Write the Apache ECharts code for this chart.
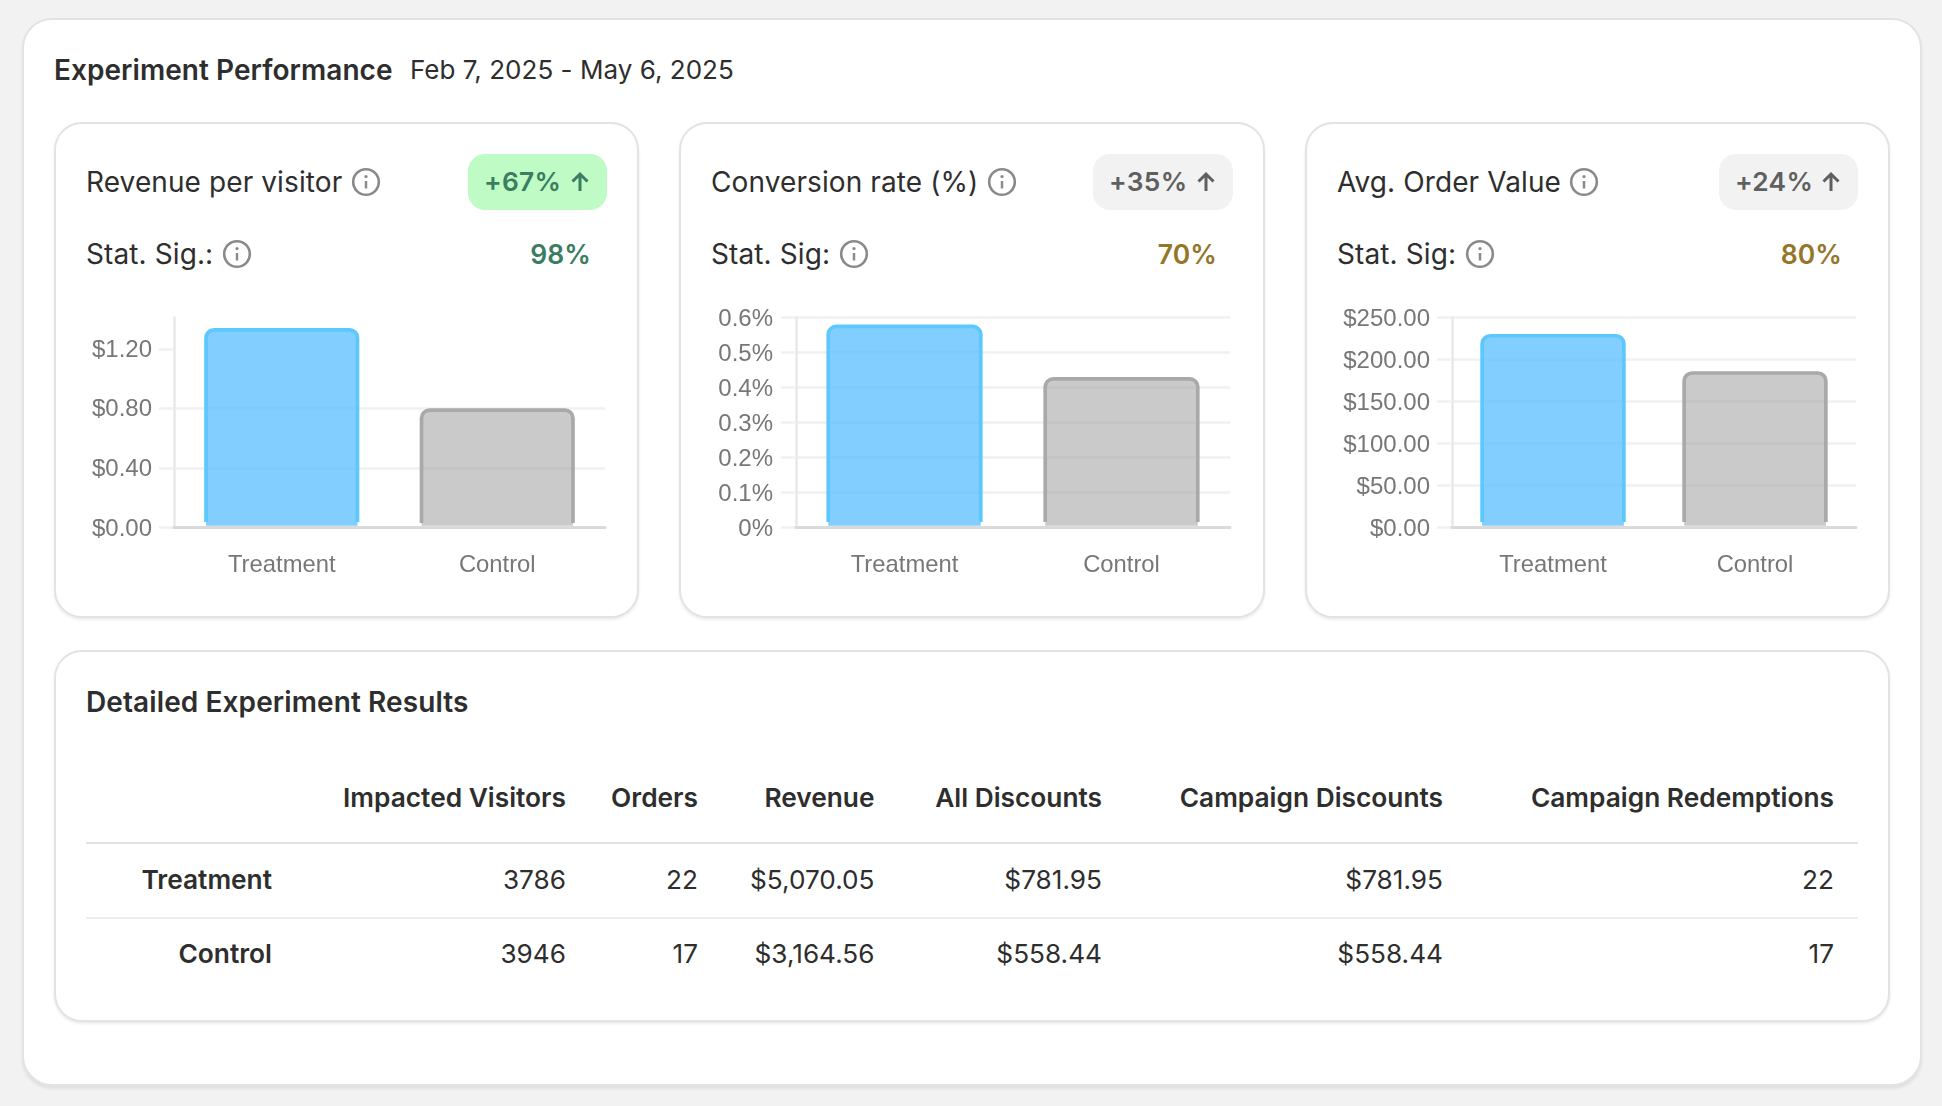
<!DOCTYPE html>
<html><head><meta charset="utf-8">
<script src="https://cdn.jsdelivr.net/npm/echarts@6/dist/echarts.min.js"></script>
<style>
html,body{margin:0;padding:0;background:#f2f2f2;width:1942px;height:1106px;overflow:hidden;font-family:Inter,sans-serif;color:#2e2e2e}
.box{position:absolute;box-sizing:border-box;background:#fff;border:2.5px solid #e3e3e3}
.outer{left:22px;top:18px;width:1900px;height:1068px;border-radius:30px;box-shadow:0 3px 3px rgba(0,0,0,.07)}
.panel{border-radius:28px;box-shadow:0 2px 3px rgba(0,0,0,.08)}
.t{position:absolute;white-space:nowrap;line-height:1;transform:translateY(-50%)}
.r{transform:translate(-100%,-50%)}
.h1{font-size:28px;font-weight:600;letter-spacing:.05px}
.h2{font-size:28px;font-weight:600;letter-spacing:.1px}
.date{font-size:26px;font-weight:400;letter-spacing:.03px}
.title{font-size:28px;font-weight:400;letter-spacing:.1px}
.badge{position:absolute;height:56px;border-radius:17px;top:154px}
.bt{font-size:26.3px;font-weight:600;letter-spacing:.3px}
.sv{font-size:26.5px;font-weight:600;letter-spacing:.1px}
.th{font-size:26.3px;font-weight:600}
.td{font-size:26.2px;font-weight:400}
.rh{font-size:26.3px;font-weight:600}
.line{position:absolute;left:86px;width:1772px}
.chart{position:absolute}
svg.icon{position:absolute}
</style></head><body>
<div class="box outer"></div>
<div id="root"></div>
<script>
// ---- data ----
const categories = ["Treatment", "Control"];
const revenuePerVisitor = [1.34, 0.80];
const conversionRate = [0.58, 0.43];
const avgOrderValue = [230.46, 186.15];
const revenueTicks = [0, 0.4, 0.8, 1.2];
const conversionTicks = [0, 0.1, 0.2, 0.3, 0.4, 0.5, 0.6];
const orderValueTicks = [0, 50, 100, 150, 200, 250];
const panelTitles = ["Revenue per visitor", "Conversion rate (%)", "Avg. Order Value"];
const sigLabels = ["Stat. Sig.:", "Stat. Sig:", "Stat. Sig:"];
const lifts = ["+67%", "+35%", "+24%"];
const sigValues = ["98%", "70%", "80%"];
const tableHeaders = ["Impacted Visitors", "Orders", "Revenue", "All Discounts", "Campaign Discounts", "Campaign Redemptions"];
const treatmentRow = ["3786", "22", "$5,070.05", "$781.95", "$781.95", "22"];
const controlRow = ["3946", "17", "$3,164.56", "$558.44", "$558.44", "17"];

// ---- layout and style ----
const root = document.getElementById('root');
function el(cls, css, txt){const d=document.createElement('div');d.className=cls;d.style.cssText=css;if(txt!==undefined)d.textContent=txt;root.appendChild(d);return d;}
function infoIcon(cx,cy){
  const s=document.createElementNS('http://www.w3.org/2000/svg','svg');
  s.setAttribute('class','icon');s.setAttribute('width',30);s.setAttribute('height',30);s.setAttribute('viewBox','0 0 30 30');
  s.style.left=(cx-15)+'px';s.style.top=(cy-15)+'px';
  s.innerHTML='<circle cx="15" cy="15" r="12.8" fill="none" stroke="#8a8a8a" stroke-width="2.6"/><line x1="15" y1="14" x2="15" y2="21.5" stroke="#8a8a8a" stroke-width="2.5"/><circle cx="15" cy="9.6" r="1.6" fill="#8a8a8a"/>';
  root.appendChild(s);
}
function arrow(cx,cy,color){
  const s=document.createElementNS('http://www.w3.org/2000/svg','svg');
  s.setAttribute('class','icon');s.setAttribute('width',22);s.setAttribute('height',22);s.setAttribute('viewBox','0 0 22 22');
  s.style.left=(cx-11)+'px';s.style.top=(cy-11)+'px';
  s.innerHTML='<path d="M11 20V3M3.5 10.5L11 3l7.5 7.5" fill="none" stroke="'+color+'" stroke-width="3"/>';
  root.appendChild(s);
}
el('t h1','left:54px;top:70px','Experiment Performance');
el('t date','left:410px;top:70px','Feb 7, 2025 - May 6, 2025');

const panels=[
 {l:54,r:639,textX:86,iconX:366,sigIcon:237,badgeL:468,badgeR:607,badge:'#bffbc4',lift:'#3a7d60',sig:'#3a7d60',ax:[174,605],vals:revenuePerVisitor,ticks:revenueTicks,max:1.41,labelMargin:22,fmt:v=>'$'+v.toFixed(2)},
 {l:679,r:1265,textX:711,iconX:1002,sigIcon:854,badgeL:1093,badgeR:1233,badge:'#f2f2f2',lift:'#5f5f5f',sig:'#957528',ax:[796,1230],vals:conversionRate,ticks:conversionTicks,max:0.6,labelMargin:23,fmt:v=>(v===0?'0':v.toFixed(1))+'%'},
 {l:1305,r:1890,textX:1337,iconX:1584,sigIcon:1480,badgeL:1719,badgeR:1858,badge:'#f2f2f2',lift:'#5f5f5f',sig:'#957528',ax:[1452,1856],vals:avgOrderValue,ticks:orderValueTicks,max:250,labelMargin:22,fmt:v=>'$'+v.toFixed(2)}
];
const barFill=['rgba(88,190,255,0.75)','rgba(170,170,170,0.62)'];
const barEdge=['#5dc8fd','#a9a9a9'];
const plotTop=317.5, plotBottom=527.5, chartTop=290, chartH=320;

panels.forEach((p,i)=>{
  el('box panel','left:'+p.l+'px;top:122px;width:'+(p.r-p.l)+'px;height:496px');
  el('t title','left:'+p.textX+'px;top:182px',panelTitles[i]);
  infoIcon(p.iconX,182);
  el('badge','left:'+p.badgeL+'px;width:'+(p.badgeR-p.badgeL)+'px;background:'+p.badge);
  el('t bt','left:'+(p.badgeL+16)+'px;top:182px;color:'+p.lift,lifts[i]);
  arrow(p.badgeR-27,182,p.lift);
  el('t title','left:'+p.textX+'px;top:254px',sigLabels[i]);
  infoIcon(p.sigIcon,254);
  el('t r sv','left:'+(p.badgeR-16)+'px;top:254px;color:'+p.sig,sigValues[i]);
  const cl=p.l+3, w=p.r-p.l-6;
  const c=el('chart','left:'+cl+'px;top:'+chartTop+'px;width:'+w+'px;height:'+chartH+'px');
  const chart=echarts.init(c);
  const labelFont={fontFamily:'"Liberation Sans",Arial,sans-serif',color:'#777777'};
  const plotH=plotBottom-plotTop;
  // the bars have no bottom edge: the stroke gradient turns transparent over the last few pixels
  const edge=(k,v)=>{const cut=1-5/(v/p.max*plotH);return new echarts.graphic.LinearGradient(0,0,0,1,[{offset:0,color:barEdge[k]},{offset:cut,color:barEdge[k]},{offset:cut,color:'rgba(0,0,0,0)'},{offset:1,color:'rgba(0,0,0,0)'}]);};
  chart.setOption({
    animation:false,
    grid:{left:p.ax[0]-cl,right:w-(p.ax[1]-cl),top:plotTop-chartTop,bottom:chartH-(plotBottom-chartTop),containLabel:false},
    xAxis:{type:'category',data:categories,z:3,
      axisLine:{show:true,lineStyle:{color:'#dadada',width:3}},axisTick:{show:false},splitLine:{show:false},
      axisLabel:Object.assign({margin:26,fontSize:23.8},labelFont)},
    yAxis:{type:'value',min:0,max:p.max,
      axisLine:{show:true,lineStyle:{color:'#e8e8e8',width:2.5}},
      axisTick:{show:true,length:15,customValues:p.ticks,lineStyle:{color:'#f1f1f1',width:2.5}},
      splitLine:{show:true,showMaxLine:p.ticks[p.ticks.length-1]===p.max,lineStyle:{color:'#f1f1f1',width:2.5}},
      axisLabel:Object.assign({margin:p.labelMargin,fontSize:24,verticalAlign:'top',lineHeight:3,customValues:p.ticks,formatter:p.fmt},labelFont)},
    series:[{type:'bar',barWidth:'72%',clip:true,
      data:p.vals.map((v,k)=>({value:v,itemStyle:{color:barFill[k],borderColor:edge(k,v),borderWidth:3.7,borderRadius:[8,8,0,0]}}))}]
  });
});

// table
el('box panel','left:54px;top:650px;width:1836px;height:372px');
el('t h2','left:86px;top:702px','Detailed Experiment Results');
const colRight=[566,698,874.5,1102,1443,1834];
const rowLabelRight=272;
const rowY=[879.5,954];
tableHeaders.forEach((h,i)=>el('t r th','left:'+colRight[i]+'px;top:798px',h));
[treatmentRow,controlRow].forEach((row,j)=>{
  el('t r rh','left:'+rowLabelRight+'px;top:'+rowY[j]+'px',categories[j]);
  row.forEach((v,i)=>el('t r td','left:'+colRight[i]+'px;top:'+rowY[j]+'px',v));
});
el('line','top:841.5px;height:2px;background:#e2e2e2');
el('line','top:916.5px;height:2px;background:#ececec');
</script>
</body></html>
